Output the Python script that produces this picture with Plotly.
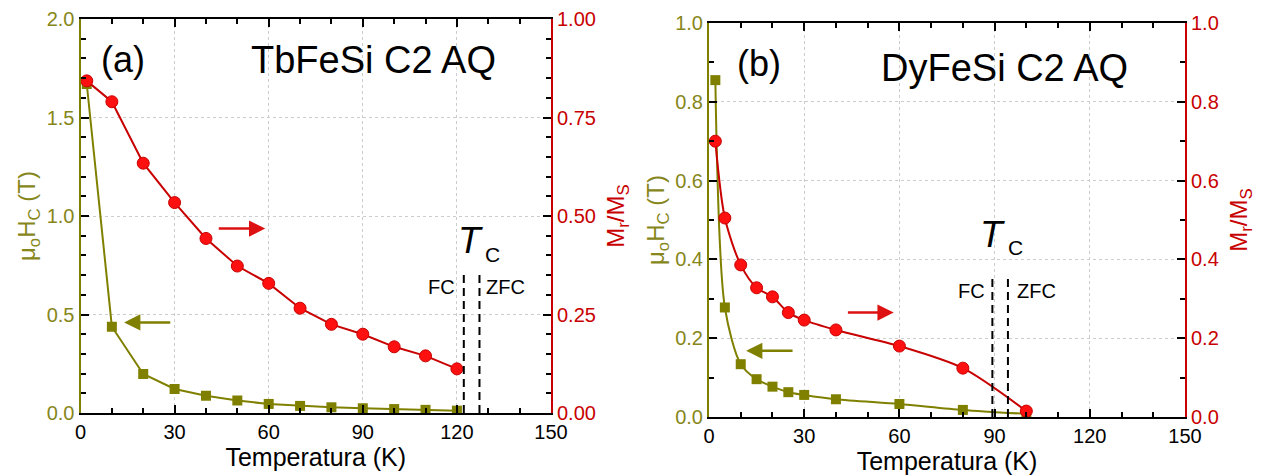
import plotly.graph_objects as go

# ---------------- data ----------------
# Panel (a) TbFeSi C2 AQ
temp_a = [2, 10, 20, 30, 40, 50, 60, 70, 80, 90, 100, 110, 120]
hc_a = [1.67, 0.438, 0.198, 0.122, 0.088, 0.063, 0.046, 0.036, 0.029, 0.024, 0.020, 0.016, 0.012]
mr_a = [0.843, 0.790, 0.634, 0.534, 0.443, 0.373, 0.329, 0.266, 0.225, 0.200, 0.168, 0.145, 0.112]
tc_a = [122.2, 127.2]          # FC, ZFC Curie temperatures
# Panel (b) DyFeSi C2 AQ
temp_b = [2, 5, 10, 15, 20, 25, 30, 40, 60, 80, 100]
hc_b = [0.855, 0.278, 0.134, 0.096, 0.077, 0.063, 0.056, 0.045, 0.033, 0.018, 0.008]
mr_b = [0.700, 0.505, 0.386, 0.328, 0.305, 0.265, 0.246, 0.221, 0.180, 0.124, 0.015]
tc_b = [89.3, 94.2]

x_ticks = [0, 30, 60, 90, 120, 150]

OLIVE = "#808000"
OLIVE_TXT = "#86861a"
RED_FILL = "#ff1010"
RED_LINE = "#c80000"
FONT = "Liberation Sans, Arial, sans-serif"

fig = go.Figure()

# (a)
fig.add_trace(go.Scatter(x=temp_a, y=hc_a, xaxis="x", yaxis="y", mode="lines+markers",
                         line=dict(color=OLIVE, width=2),
                         marker=dict(symbol="square", size=10, color=OLIVE)))
fig.add_trace(go.Scatter(x=temp_a, y=mr_a, xaxis="x", yaxis="y2", mode="lines+markers",
                         line=dict(color=RED_LINE, width=2),
                         marker=dict(symbol="circle", size=12, color=RED_FILL,
                                     line=dict(color=RED_LINE, width=1))))
# (b)
fig.add_trace(go.Scatter(x=temp_b, y=hc_b, xaxis="x2", yaxis="y3", mode="lines+markers",
                         line=dict(color=OLIVE, width=2, shape="spline", smoothing=0.8),
                         marker=dict(symbol="square", size=10, color=OLIVE)))
fig.add_trace(go.Scatter(x=temp_b, y=mr_b, xaxis="x2", yaxis="y4", mode="lines+markers",
                         line=dict(color=RED_LINE, width=2, shape="spline", smoothing=0.8),
                         marker=dict(symbol="circle", size=12, color=RED_FILL,
                                     line=dict(color=RED_LINE, width=1))))

grid = dict(showgrid=True, gridcolor="#cccccc", griddash="dot", gridwidth=1)


def xax(domain, anchor):
    return dict(domain=domain, anchor=anchor, range=[0, 150], tickvals=x_ticks,
                ticks="inside", ticklen=8, tickcolor="black", tickwidth=1.5,
                minor=dict(dtick=10, ticks="inside", ticklen=5, tickcolor="black", showgrid=False),
                showline=True, linecolor="black", linewidth=2, mirror="ticks",
                tickfont=dict(family=FONT, size=20, color="black"),
                title=dict(text="Temperatura (K)", font=dict(family=FONT, size=25, color="black"),
                           standoff=0),
                zeroline=False, automargin=False, **grid)


def yleft(domain, anchor, rng, dtick, minor, fmt):
    return dict(domain=domain, anchor=anchor, range=rng, dtick=dtick, tick0=0, tickformat=fmt,
                ticks="inside", ticklen=8, tickcolor="black", tickwidth=1.5,
                minor=dict(dtick=minor, ticks="inside", ticklen=5, tickcolor="black", showgrid=False),
                showline=True, linecolor=OLIVE, linewidth=2,
                tickfont=dict(family=FONT, size=20, color=OLIVE_TXT),
                title=dict(text="μ<sub>o</sub>H<sub>C</sub> (T)",
                           font=dict(family=FONT, size=24, color=OLIVE_TXT), standoff=4),
                zeroline=False, automargin=False, **grid)


def yright(overlay, anchor, rng, dtick, minor, fmt):
    return dict(overlaying=overlay, anchor=anchor, side="right", range=rng, dtick=dtick, tick0=0,
                tickformat=fmt, ticks="inside", ticklen=8, tickcolor="black", tickwidth=1.5,
                minor=dict(dtick=minor, ticks="inside", ticklen=5, tickcolor="black", showgrid=False),
                showline=True, linecolor=RED_LINE, linewidth=2,
                tickfont=dict(family=FONT, size=20, color=RED_LINE),
                title=dict(text="M<sub>r</sub>/M<sub>S</sub>",
                           font=dict(family=FONT, size=24, color=RED_LINE), standoff=12),
                showgrid=False, zeroline=False, automargin=False)


OFF = 8  # default page body margin
W, H = 1273 - OFF, 476 - OFF
dom_xa = [(80.5 - OFF) / W, (551 - OFF) / W]
dom_xb = [(709 - OFF) / W, (1185 - OFF) / W]
dom_ya = [1 - (413 - OFF) / H, 1 - (19 - OFF) / H]
dom_yb = [1 - (417 - OFF) / H, 1 - (23 - OFF) / H]

fig.update_layout(
    width=W, height=H, margin=dict(l=0, r=0, t=0, b=0),
    paper_bgcolor="white", plot_bgcolor="white", showlegend=False,
    font=dict(family=FONT),
    xaxis=xax(dom_xa, "y"),
    yaxis=yleft(dom_ya, "x", [0, 2.0], 0.5, 0.1, ".1f"),
    yaxis2=yright("y", "x", [0, 1.0], 0.25, 0.05, ".2f"),
    xaxis2=xax(dom_xb, "y3"),
    yaxis3=yleft(dom_yb, "x2", [0, 1.0], 0.2, 0.1, ".1f"),
    yaxis4=yright("y3", "x2", [0, 1.0], 0.2, 0.1, ".1f"),
)

# dashed Tc lines
dash_top_a = 0.712
dash_top_b = 0.356
for t in tc_a:
    fig.add_shape(type="line", xref="x", yref="y", x0=t, x1=t, y0=0, y1=dash_top_a,
                  line=dict(color="black", width=2, dash="8px,5px"))
for t in tc_b:
    fig.add_shape(type="line", xref="x2", yref="y3", x0=t, x1=t, y0=0, y1=dash_top_b,
                  line=dict(color="black", width=2, dash="8px,5px"))


def txt(x, y, xr, yr, s, size, italic=False, color="black", xanchor="center"):
    fig.add_annotation(x=x, y=y, xref=xr, yref=yr, text=(f"<i>{s}</i>" if italic else s),
                       showarrow=False, xanchor=xanchor, yanchor="middle", borderpad=0,
                       font=dict(family=FONT, size=size, color=color))


# panel (a) texts
txt(13.7, 1.792, "x", "y", "(a)", 36)
txt(93.35, 1.79, "x", "y", "TbFeSi C2 AQ", 38)
txt(128.5, 0.878, "x", "y", "T", 37, italic=True, xanchor="right")
txt(128.7, 0.807, "x", "y", "C", 21, xanchor="left")
txt(115.2, 0.640, "x", "y", "FC", 20)
txt(135.6, 0.640, "x", "y", "ZFC", 20)
# panel (b) texts
txt(15.9, 0.896, "x2", "y3", "(b)", 36)
txt(93.0, 0.886, "x2", "y3", "DyFeSi C2 AQ", 38)
txt(93.7, 0.464, "x2", "y3", "T", 37, italic=True, xanchor="right")
txt(93.9, 0.429, "x2", "y3", "C", 21, xanchor="left")
txt(82.7, 0.320, "x2", "y3", "FC", 20)
txt(103.1, 0.320, "x2", "y3", "ZFC", 20)


def arrow(x_head, x_tail, y, xr, yr, color):
    fig.add_annotation(x=x_head, y=y, ax=x_tail, ay=y, xref=xr, yref=yr, axref=xr, ayref=yr,
                       text="", showarrow=True, arrowhead=2, arrowsize=1.3, arrowwidth=2.5,
                       arrowcolor=color)


arrow(58.9, 43.6, 0.468, "x", "y2", "#dd1111")
arrow(13.9, 29.1, 0.46, "x", "y", OLIVE)
arrow(58.2, 43.3, 0.265, "x2", "y4", "#dd1111")
arrow(11.7, 26.8, 0.168, "x2", "y3", OLIVE)

fig.write_html("out.html")
